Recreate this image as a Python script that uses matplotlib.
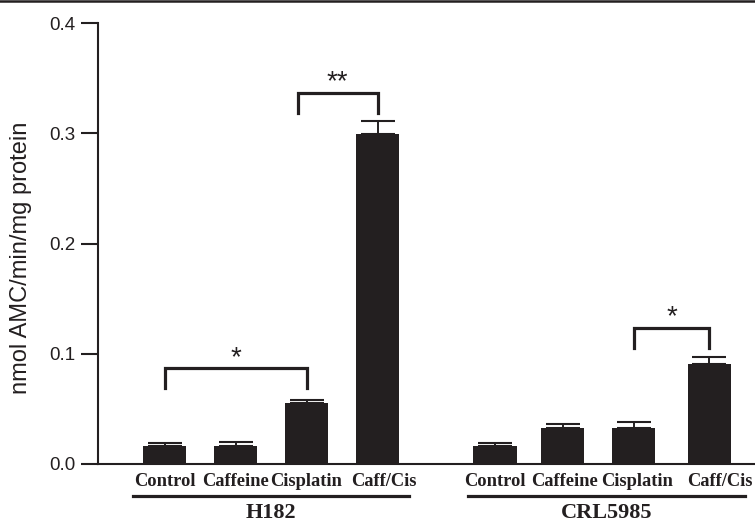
#!/usr/bin/env python3
"""
Proteasome activity bar chart (H182 vs CRL5985).
"""

import numpy as np
import matplotlib
matplotlib.use("Agg")
import matplotlib.pyplot as plt
from matplotlib.lines import Line2D

# Data
treatments = ["Control", "Caffeine", "Cisplatin", "Caff/Cis"]
cell_lines = ["H182", "CRL5985"]
h182_mean = [0.016, 0.016, 0.055, 0.299]
h182_err = [0.0035, 0.004, 0.003, 0.012]
crl_mean = [0.016, 0.033, 0.033, 0.091]
crl_err = [0.003, 0.0035, 0.0055, 0.0065]

# significance brackets: (left bar, right bar, bracket top, leg bottom, label)
brackets = [
    (0, 2, 0.087, 0.069, "*"),
    (2, 3, 0.3365, 0.3185, "**"),
    (6, 7, 0.1235, 0.105, "*"),
]

ink = "#231f20"
positions = [0, 1, 2, 3, 4.655, 5.61, 6.61, 7.676]
label_shift = [0, 0, 0, 0.09, 0, 0.02, 0.05, 0.14]
means = h182_mean + crl_mean
errs = h182_err + crl_err

fig = plt.figure(figsize=(7.55, 5.22), dpi=100)
ax = fig.add_axes([98 / 755, 1 - 464 / 522, 1 - 98 / 755, (464 - 23) / 522])

ax.bar(positions, means, width=0.606, color=ink, zorder=2)
ax.errorbar(positions, means, yerr=[np.zeros(len(errs)), errs], fmt="none",
            ecolor=ink, elinewidth=1.4, capsize=12.5, capthick=1.5, zorder=3)

ax.set_xlim(-0.937, 8.317)
ax.set_ylim(0, 0.4)
ax.set_yticks([0.0, 0.1, 0.2, 0.3, 0.4])
ax.set_yticklabels(["0.0", "0.1", "0.2", "0.3", "0.4"],
                   family="Liberation Sans", fontsize=13.5, color=ink)
ax.tick_params(axis="y", direction="out", length=12.5, width=1.5,
               color=ink, pad=4)
ax.set_xticks([])

# treatment labels under each bar
trans = ax.get_xaxis_transform()
for x, dx, name in zip(positions, label_shift, treatments * 2):
    ax.text(x + dx, -0.05, name, transform=trans, ha="center",
            va="baseline", family="Liberation Serif", fontweight="bold",
            fontsize=13.3, color=ink)

for side in ["top", "right"]:
    ax.spines[side].set_visible(False)
for side in ["left", "bottom"]:
    ax.spines[side].set_linewidth(1.5)
    ax.spines[side].set_color(ink)

ax.set_ylabel("nmol AMC/min/mg protein", family="Liberation Sans",
              fontsize=17, color=ink)
ax.yaxis.set_label_coords(-0.1, 0.468)

# group underlines and names
groups = [(positions[0] - 0.444, positions[3] + 0.444),
          (positions[4] - 0.38, positions[7] + 0.5)]
for (x0, x1), name in zip(groups, cell_lines):
    ax.plot([x0, x1], [-0.0726, -0.0726], color=ink, lw=2.3,
            transform=trans, clip_on=False)
    ax.text((x0 + x1) / 2, -0.112, name, transform=trans, ha="center",
            va="center", family="Liberation Serif", fontweight="bold",
            fontsize=16, color=ink)

# significance brackets
for i, j, top, bottom, label in brackets:
    xl, xr = positions[i], positions[j]
    if label == "**":
        xl -= 0.12
    ax.plot([xl, xl, xr, xr], [bottom, top, top, bottom], color=ink,
            lw=2.3, solid_joinstyle="miter", zorder=3)
    ax.text((xl + xr) / 2, top + 0.003, label, ha="center", va="baseline",
            family="Liberation Sans", fontsize=20, color=ink)

# border line along the top of the figure
fig.add_artist(Line2D([0, 1], [0.998, 0.998], color=ink, lw=1.8,
                      transform=fig.transFigure))

fig.savefig("out.png", dpi=100)
